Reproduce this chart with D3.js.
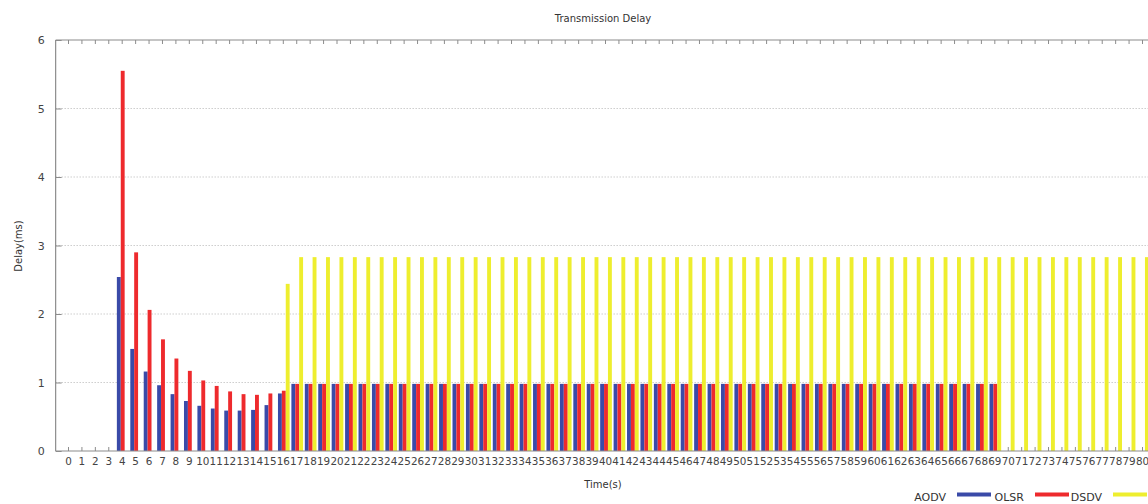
<!DOCTYPE html>
<html>
<head>
<meta charset="utf-8">
<script src="https://cdn.jsdelivr.net/npm/d3@7"></script>
<style>
  body { margin: 0; background: #fff; }
  svg { display: block; font-family: "DejaVu Sans", sans-serif; }
</style>
</head>
<body>
<div id="chart"></div>
<script>
// time categories (x tick labels)
const times = [
  0, 1, 2, 3, 4, 5, 6, 7, 8, 9,
  10, 11, 12, 13, 14, 15, 16, 17, 18, 19,
  20, 21, 22, 23, 24, 25, 26, 27, 28, 29,
  30, 31, 32, 33, 34, 35, 36, 37, 38, 39,
  40, 41, 42, 43, 44, 45, 46, 47, 48, 49,
  50, 51, 52, 53, 54, 55, 56, 57, 58, 59,
  60, 61, 62, 63, 64, 65, 66, 67, 68, 69,
  70, 71, 72, 73, 74, 75, 76, 77, 78, 79,
  80
];

// delay values (ms), one per time
const aodv = [
  0, 0, 0, 0, 2.54, 1.49, 1.16, 0.96, 0.83, 0.73,
  0.66, 0.62, 0.59, 0.59, 0.60, 0.67, 0.84, 0.98, 0.98, 0.98,
  0.98, 0.98, 0.98, 0.98, 0.98, 0.98, 0.98, 0.98, 0.98, 0.98,
  0.98, 0.98, 0.98, 0.98, 0.98, 0.98, 0.98, 0.98, 0.98, 0.98,
  0.98, 0.98, 0.98, 0.98, 0.98, 0.98, 0.98, 0.98, 0.98, 0.98,
  0.98, 0.98, 0.98, 0.98, 0.98, 0.98, 0.98, 0.98, 0.98, 0.98,
  0.98, 0.98, 0.98, 0.98, 0.98, 0.98, 0.98, 0.98, 0.98, 0.98,
  0, 0, 0, 0, 0, 0, 0, 0, 0, 0,
  0
];
const olsr = [
  0, 0, 0, 0, 5.55, 2.90, 2.06, 1.63, 1.35, 1.17,
  1.03, 0.95, 0.87, 0.83, 0.82, 0.84, 0.88, 0.98, 0.98, 0.98,
  0.98, 0.98, 0.98, 0.98, 0.98, 0.98, 0.98, 0.98, 0.98, 0.98,
  0.98, 0.98, 0.98, 0.98, 0.98, 0.98, 0.98, 0.98, 0.98, 0.98,
  0.98, 0.98, 0.98, 0.98, 0.98, 0.98, 0.98, 0.98, 0.98, 0.98,
  0.98, 0.98, 0.98, 0.98, 0.98, 0.98, 0.98, 0.98, 0.98, 0.98,
  0.98, 0.98, 0.98, 0.98, 0.98, 0.98, 0.98, 0.98, 0.98, 0.98,
  0, 0, 0, 0, 0, 0, 0, 0, 0, 0,
  0
];
const dsdv = [
  0, 0, 0, 0, 0, 0, 0, 0, 0, 0,
  0, 0, 0, 0, 0, 0, 2.44, 2.83, 2.83, 2.83,
  2.83, 2.83, 2.83, 2.83, 2.83, 2.83, 2.83, 2.83, 2.83, 2.83,
  2.83, 2.83, 2.83, 2.83, 2.83, 2.83, 2.83, 2.83, 2.83, 2.83,
  2.83, 2.83, 2.83, 2.83, 2.83, 2.83, 2.83, 2.83, 2.83, 2.83,
  2.83, 2.83, 2.83, 2.83, 2.83, 2.83, 2.83, 2.83, 2.83, 2.83,
  2.83, 2.83, 2.83, 2.83, 2.83, 2.83, 2.83, 2.83, 2.83, 2.83,
  2.83, 2.83, 2.83, 2.83, 2.83, 2.83, 2.83, 2.83, 2.83, 2.83,
  2.83
];

const seriesNames = ["AODV", "OLSR", "DSDV"];
const seriesColors = ["#3a4aa8", "#ee2a2d", "#eeee2e"];
const yTicks = [0, 1, 2, 3, 4, 5, 6];

const W = 1148, H = 504;
const axisColor = "#8c8c8c";
const textColor = "#444";

// category -> pixel
const x = d3.scaleLinear().domain([0, 80]).range([68, 1142]);
const y = d3.scaleLinear().domain([0, 6]).range([451, 40]);
const left = x(-0.92), right = x(81);

// bar offsets inside a cluster, in category units
const barW = 0.29;
const barOff = [-0.36, -0.07, 0.22];

const svg = d3.select("#chart").append("svg")
  .attr("width", W)
  .attr("height", H);

// dotted grid
svg.append("g")
  .selectAll("line")
  .data(yTicks.slice(1, -1))
  .join("line")
  .attr("x1", left).attr("x2", right)
  .attr("y1", d => y(d)).attr("y2", d => y(d))
  .attr("stroke", "#b4b4b4")
  .attr("stroke-width", 1)
  .attr("stroke-dasharray", "1,2");

// y axis
svg.append("g")
  .attr("transform", `translate(${left},0)`)
  .call(d3.axisLeft(y).tickValues(yTicks).tickSize(-6).tickPadding(11).tickFormat(d3.format("d")))
  .call(g => g.select(".domain").remove())
  .call(g => g.selectAll(".tick line").attr("stroke", axisColor))
  .call(g => g.selectAll("text").attr("fill", textColor).style("font-size", "11px").style("font-family", "DejaVu Sans"));

// bottom axis (ticks inside)
svg.append("g")
  .attr("transform", `translate(0,${y(0)})`)
  .call(d3.axisBottom(x).tickValues(times).tickSize(-4).tickPadding(7).tickFormat(d3.format("d")))
  .call(g => g.select(".domain").remove())
  .call(g => g.selectAll(".tick line").attr("stroke", axisColor))
  .call(g => g.selectAll("text").attr("fill", textColor).style("font-size", "10.4px").style("font-family", "DejaVu Sans"));

// top mirror ticks
svg.append("g")
  .attr("transform", `translate(0,${y(6)})`)
  .call(d3.axisTop(x).tickValues(times).tickSize(-4).tickFormat(""))
  .call(g => g.select(".domain").remove())
  .call(g => g.selectAll(".tick line").attr("stroke", axisColor));

// bars
const series = [aodv, olsr, dsdv];
series.forEach((vals, s) => {
  svg.append("g")
    .selectAll("rect")
    .data(times.map((t, i) => ({ t: t, v: vals[i] })).filter(d => d.v > 0))
    .join("rect")
    .attr("x", d => x(d.t + barOff[s]))
    .attr("width", x(barW) - x(0))
    .attr("y", d => y(d.v))
    .attr("height", d => y(0) - y(d.v))
    .attr("fill", seriesColors[s]);
});

// border lines
svg.append("line")
  .attr("x1", left).attr("x2", right)
  .attr("y1", y(0)).attr("y2", y(0))
  .attr("stroke", axisColor).attr("stroke-width", 1.2);
svg.append("line")
  .attr("x1", left).attr("x2", right)
  .attr("y1", y(6)).attr("y2", y(6))
  .attr("stroke", axisColor).attr("stroke-width", 1.2);
svg.append("line")
  .attr("x1", left).attr("x2", left)
  .attr("y1", y(0)).attr("y2", y(6))
  .attr("stroke", axisColor).attr("stroke-width", 1.2);

// title and axis labels
svg.append("text")
  .attr("x", 603).attr("y", 22)
  .attr("text-anchor", "middle")
  .style("font-size", "10px")
  .attr("fill", "#333")
  .text("Transmission Delay");

svg.append("text")
  .attr("transform", "rotate(-90)")
  .attr("x", -246).attr("y", 22)
  .attr("text-anchor", "middle")
  .style("font-size", "10px")
  .attr("fill", "#333")
  .text("Delay(ms)");

svg.append("text")
  .attr("x", 603).attr("y", 488)
  .attr("text-anchor", "middle")
  .style("font-size", "10px")
  .attr("fill", "#333")
  .text("Time(s)");

// legend: label then sample, gnuplot style
const legend = svg.append("g");
seriesNames.forEach((name, i) => {
  const sx = 957 + i * 78;
  legend.append("text")
    .attr("x", sx - 11).attr("y", 500.5)
    .attr("text-anchor", "end")
    .style("font-size", "11px")
    .attr("fill", "#333")
    .text(name);
  legend.append("rect")
    .attr("x", sx).attr("y", 492.5)
    .attr("width", 34).attr("height", 4)
    .attr("fill", seriesColors[i]);
});
</script>
</body>
</html>
